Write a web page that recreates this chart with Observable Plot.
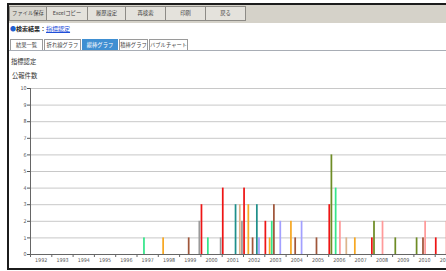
<!DOCTYPE html>
<html><head><meta charset="utf-8">
<script src="https://cdn.jsdelivr.net/npm/d3@7"></script>
<script src="https://cdn.jsdelivr.net/npm/@observablehq/plot@0.6"></script>
<style>
html,body{margin:0;padding:0;width:446px;height:271px;overflow:hidden;background:#fff;font-family:"Noto Sans CJK JP","Noto Sans",sans-serif;color:#333;}
#frame{position:absolute;left:7px;top:3px;width:470px;height:263px;border:2px solid #1c1c1c;border-right:none;overflow:hidden;}
#toolbar{position:absolute;left:0;top:0;right:0;height:18px;background:#d5d2c9;}
.btn{position:absolute;top:1px;height:15px;box-sizing:border-box;border:1px solid #8d8b86;background:#e4e2dc;font-size:5.3px;line-height:13px;text-align:center;white-space:nowrap;overflow:hidden;color:#444;}
#result{position:absolute;left:1px;top:19px;font-size:6px;line-height:9px;white-space:nowrap;}
#result .dot{color:#1f5fd0;font-size:6px;}
#result b{color:#222;}
#result a{color:#1f4fd8;text-decoration:underline;}
.tab{position:absolute;top:34px;height:11px;box-sizing:border-box;border:1px solid #9a9a9a;border-bottom:none;background:#fff;font-size:5.3px;line-height:10px;text-align:center;white-space:nowrap;overflow:hidden;color:#444;}
.tab.sel{background:#3f8fd2;color:#fff;border-color:#3f8fd2;}
#tabline{position:absolute;left:0;right:0;top:45px;height:0;border-top:1px solid #a8adb5;}
.lbl{position:absolute;left:2px;font-size:6.3px;line-height:9px;white-space:nowrap;color:#333;}
#chart{position:absolute;left:0;top:75px;width:447px;height:186px;}
#chart svg{max-width:none !important;overflow:visible;}
</style>
</head><body>
<div id="frame">
  <div id="toolbar">
    <div class="btn" style="left:0;width:38px;background:#d9d7d0;">ファイル保存</div>
    <div class="btn" style="left:37px;width:42px;">Excelコピー</div>
    <div class="btn" style="left:78px;width:39px;">履歴設定</div>
    <div class="btn" style="left:116px;width:41px;">再検索</div>
    <div class="btn" style="left:156px;width:41px;">印刷</div>
    <div class="btn" style="left:196px;width:41px;">戻る</div>
  </div>
  <div id="result"><span class="dot">●</span><b>検索結果：</b><a>指標認定</a></div>
  <div class="tab" style="left:1px;width:33px;">結果一覧</div>
  <div class="tab" style="left:35px;width:37px;">折れ線グラフ</div>
  <div class="tab sel" style="left:73px;width:36px;">縦棒グラフ</div>
  <div class="tab" style="left:110px;width:29px;">積棒グラフ</div>
  <div class="tab" style="left:140px;width:39px;">バブルチャート</div>
  <div id="tabline"></div>
  <div class="lbl" style="top:52px;">指標認定</div>
  <div class="lbl" style="top:66px;left:3px;">公報件数</div>
  <div id="chart"></div>
</div>
<script>
// ---- data ----
const years = [1992,1993,1994,1995,1996,1997,1998,1999,2000,2001,2002,2003,2004,2005,2006,2007,2008,2009,2010,2011];
const yTicks = [0,1,2,3,4,5,6,7,8,9,10];
const seriesNames = ["系列1","系列2","系列3","系列4","系列5","系列6","系列7","系列8","系列9","系列10"];
const seriesColors = ["#ee1515","#6e8c25","#f7a823","#35e68a","#a0563a","#ff9a9a","#1f8f8a","#a3a0ff","#dcb58c","#9a9a9a"];
//                 92 93 94 95 96 97 98 99 00 01 02 03 04 05 06 07 08 09 10 11
const s1Values  = [0, 0, 0, 0, 0, 0, 0, 0, 3, 4, 4, 2, 0, 0, 3, 0, 1, 0, 0, 1];
const s2Values  = [0, 0, 0, 0, 0, 0, 0, 0, 0, 0, 0, 0, 0, 0, 6, 0, 2, 1, 1, 0];
const s3Values  = [0, 0, 0, 0, 0, 0, 1, 0, 0, 0, 3, 1, 2, 0, 0, 1, 0, 0, 0, 0];
const s4Values  = [0, 0, 0, 0, 0, 1, 0, 0, 1, 0, 0, 2, 0, 0, 4, 0, 0, 0, 0, 0];
const s5Values  = [0, 0, 0, 0, 0, 0, 0, 1, 0, 0, 1, 3, 1, 1, 0, 0, 0, 0, 1, 0];
const s6Values  = [0, 0, 0, 0, 0, 0, 0, 0, 0, 0, 0, 0, 0, 0, 2, 0, 2, 0, 2, 2];
const s7Values  = [0, 0, 0, 0, 0, 0, 0, 0, 0, 3, 3, 0, 0, 0, 0, 0, 0, 0, 0, 0];
const s8Values  = [0, 0, 0, 0, 0, 0, 0, 0, 0, 0, 1, 2, 2, 0, 0, 0, 0, 0, 0, 0];
const s9Values  = [0, 0, 0, 0, 0, 0, 0, 0, 0, 3, 0, 0, 0, 0, 1, 0, 0, 0, 0, 0];
const s10Values = [0, 0, 0, 0, 0, 0, 0, 2, 1, 2, 0, 0, 0, 0, 0, 0, 0, 0, 0, 0];
const seriesValues = [s1Values,s2Values,s3Values,s4Values,s5Values,s6Values,s7Values,s8Values,s9Values,s10Values];

// ---- table ----
const nSeries = seriesNames.length;
const rows = [];
seriesValues.forEach((vals, si) => vals.forEach((v, yi) => {
  if (v > 0) rows.push({year: years[yi], slot: si, series: seriesNames[si], value: v});
}));
const edges = [years[0] - 0.5, ...years.map(y => y + 0.5)];

const plot = Plot.plot({
  width: 447, height: 186,
  marginLeft: 21, marginRight: 0, marginTop: 8, marginBottom: 12,
  style: {fontSize: "5.3px", fontFamily: "'Liberation Sans Narrow','DejaVu Sans Condensed',sans-serif", color: "#555", background: "transparent", overflow: "visible"},
  x: {type: "linear", domain: [years[0] - 0.5, years[years.length - 1] + 0.5], ticks: years, tickSize: 0, tickPadding: 4, tickFormat: d => String(d), label: null},
  y: {domain: [0, 10], ticks: yTicks, tickSize: 3, tickPadding: 1, label: null},
  color: {domain: seriesNames, range: seriesColors},
  marks: [
    Plot.ruleY(yTicks.slice(1), {stroke: "#c8c8c8", strokeWidth: 1}),
    Plot.rect(rows, {
      x1: d => d.year - 0.5 + d.slot / nSeries,
      x2: d => d.year - 0.5 + (d.slot + 1) / nSeries,
      y1: 0, y2: "value", fill: "series", insetLeft: 0.2, insetRight: 0.2
    }),
    Plot.ruleX(edges, {y1: 0, y2: 0, insetTop: 3, stroke: "#666"}),
    Plot.ruleY([0], {stroke: "#666"}),
    Plot.ruleX([years[0] - 0.5], {stroke: "#666"})
  ]
});
document.getElementById("chart").appendChild(plot);
</script>
</body></html>
